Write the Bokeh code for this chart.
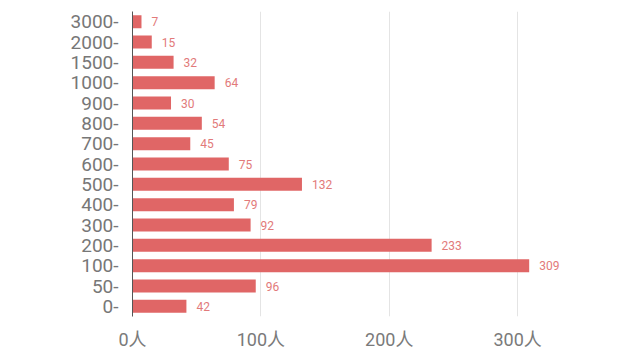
from bokeh.plotting import figure
from bokeh.models import FactorRange, Range1d, FixedTicker, PrintfTickFormatter, ColumnDataSource
from bokeh.core.properties import value
from bokeh.embed import file_html
from bokeh.resources import INLINE

categories = ["0-", "50-", "100-", "200-", "300-", "400-", "500-", "600-",
              "700-", "800-", "900-", "1000-", "1500-", "2000-", "3000-"]
counts = [42, 96, 309, 233, 92, 79, 132, 75, 45, 54, 30, 64, 32, 15, 7]
x_ticks = [0, 100, 200, 300]

src = ColumnDataSource(dict(cat=categories, n=counts, lab=[str(c) for c in counts]))

p = figure(width=632, height=352, output_backend="svg", toolbar_location=None,
           y_range=FactorRange(factors=categories, range_padding=0),
           x_range=Range1d(0, 370),
           min_border_left=132, min_border_right=25, min_border_top=11, min_border_bottom=30)
p.outline_line_color = None
p.hbar(y="cat", right="n", left=0, height=0.64, source=src,
       fill_color="#e06666", line_color=None)
p.text(x="n", y="cat", text="lab", source=src, x_offset=10,
       text_baseline="middle", text_align="left", text_font_size="12px",
       text_color="#e27a7a", text_font=value("Roboto"))

p.xaxis.ticker = FixedTicker(ticks=x_ticks)
p.xaxis.formatter = PrintfTickFormatter(format="%d人")
p.xaxis.axis_line_color = None
p.xaxis.major_tick_line_color = None
p.xaxis.minor_tick_line_color = None
p.xaxis.major_label_text_font_size = "18px"
p.xaxis.major_label_text_color = "#7a7a7a"
p.xaxis.major_label_text_font = "Roboto, Noto Sans CJK SC"
p.xaxis.major_label_standoff = 6

p.yaxis.axis_line_color = "#555555"
p.yaxis.axis_line_width = 1
p.yaxis.major_tick_line_color = None
p.yaxis.minor_tick_line_color = None
p.yaxis.major_label_text_font_size = "19px"
p.yaxis.major_label_text_color = "#777777"
p.yaxis.major_label_text_font = "Roboto"
p.yaxis.major_label_standoff = 8

p.ygrid.grid_line_color = None
p.xgrid.ticker = FixedTicker(ticks=x_ticks)
p.xgrid.grid_line_color = "#e4e4e4"

open("out.html", "w").write(file_html(p, INLINE))
